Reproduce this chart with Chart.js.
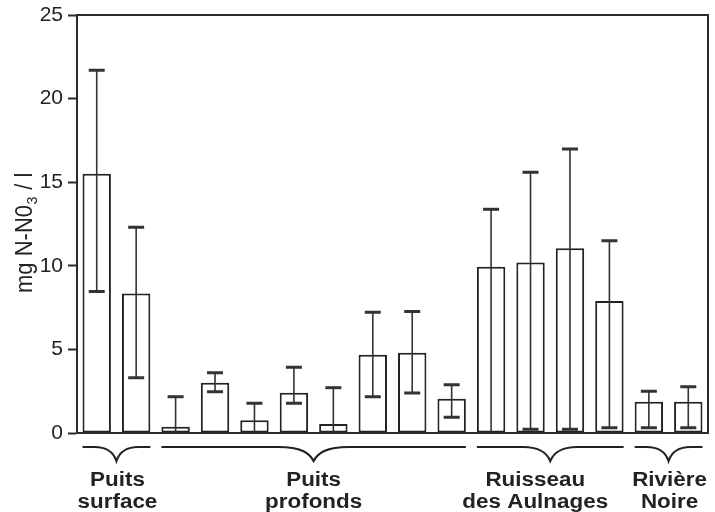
<!DOCTYPE html>
<html>
<head>
<meta charset="utf-8">
<script src="https://cdn.jsdelivr.net/npm/chart.js@4/dist/chart.umd.min.js"></script>
<style>
  html, body { margin: 0; padding: 0; background: #ffffff; }
  #wrap { width: 715px; height: 512px; }
</style>
</head>
<body>
<div id="wrap"><canvas id="c" width="715" height="512"></canvas></div>
<script>
// ---- data ----
const categories = ["PS1","PS2","PP1","PP2","PP3","PP4","PP5","PP6","PP7","PP8","RA1","RA2","RA3","RA4","RN1","RN2"];
const means = [15.5, 8.35, 0.38, 3.0, 0.76, 2.4, 0.54, 4.68, 4.8, 2.05, 9.95, 10.2, 11.05, 7.9, 1.87, 1.87];
const upper = [21.7, 12.3, 2.17, 3.6, 1.78, 3.93, 2.71, 7.22, 7.26, 2.89, 13.38, 15.6, 16.99, 11.5, 2.5, 2.77];
const lower = [8.47, 3.31, null, 2.47, null, 1.78, null, 2.17, 2.39, 0.94, null, 0.22, 0.22, 0.32, 0.32, 0.32];
const yTicks = [0, 5, 10, 15, 20, 25];
const groupLabels = [["Puits", "surface"], ["Puits", "profonds"], ["Ruisseau", "des Aulnages"], ["Rivière", "Noire"]];
const groupFirst = [0, 2, 10, 14];
const groupLast = [1, 9, 13, 15];
const yTitleMain = "mg N-N0";
const yTitleSub = "3";
const yTitleEnd = " / l";

const INK = "#2b2b2b";

const frameAndExtras = {
  id: "frameAndExtras",
  afterDatasetsDraw(chart) {
    const ctx = chart.ctx;
    const ys = chart.scales.y;
    const meta = chart.getDatasetMeta(0);
    ctx.save();
    ctx.strokeStyle = "#333";
    for (let i = 0; i < means.length; i++) {
      const x = meta.data[i].x;
      const yTop = ys.getPixelForValue(upper[i]);
      const yBot = ys.getPixelForValue(lower[i] === null ? 0 : lower[i]);
      ctx.lineWidth = 1.6;
      ctx.beginPath();
      ctx.moveTo(x, yTop);
      ctx.lineTo(x, yBot);
      ctx.stroke();
      ctx.lineWidth = 3;
      ctx.beginPath();
      ctx.moveTo(x - 8, yTop);
      ctx.lineTo(x + 8, yTop);
      if (lower[i] !== null) {
        ctx.moveTo(x - 8, yBot);
        ctx.lineTo(x + 8, yBot);
      }
      ctx.stroke();
    }
    ctx.restore();
  },
  afterDraw(chart) {
    const ctx = chart.ctx;
    const a = chart.chartArea;
    const xs = chart.scales.x;
    ctx.save();
    // frame: top, right, bottom
    ctx.strokeStyle = INK;
    ctx.lineWidth = 2;
    ctx.beginPath();
    ctx.moveTo(a.left, a.top);
    ctx.lineTo(a.right, a.top);
    ctx.lineTo(a.right, a.bottom);
    ctx.lineTo(a.left, a.bottom);
    ctx.stroke();

    // braces
    const catW = (a.right - a.left) / categories.length;
    const halfBar = catW * 0.72 / 2;
    const y0 = a.bottom + 14;
    const h = 14;
    const labelShift = [1, 0, -15, 1];
    ctx.lineWidth = 2.2;
    ctx.strokeStyle = "#222";
    for (let g = 0; g < groupLabels.length; g++) {
      const x1 = xs.getPixelForValue(groupFirst[g]) - halfBar;
      const x2 = xs.getPixelForValue(groupLast[g]) + halfBar;
      const tip = (x1 + x2) / 2;
      const half = (x2 - x1) / 2;
      const c = Math.min(half * 0.65, 20 + half * 0.1);
      ctx.beginPath();
      ctx.moveTo(x1, y0);
      ctx.lineTo(tip - c, y0);
      ctx.bezierCurveTo(tip - c * 0.35, y0, tip - c * 0.12, y0 + h * 0.45, tip, y0 + h);
      ctx.bezierCurveTo(tip + c * 0.12, y0 + h * 0.45, tip + c * 0.35, y0, tip + c, y0);
      ctx.lineTo(x2, y0);
      ctx.stroke();

      ctx.fillStyle = "#222";
      ctx.font = "bold 19px 'Liberation Sans', Arial, sans-serif";
      ctx.textAlign = "center";
      ctx.textBaseline = "alphabetic";
      const lines = groupLabels[g];
      for (let k = 0; k < lines.length; k++) {
        ctx.save();
        ctx.translate(tip + labelShift[g], a.bottom + 53 + k * 22);
        ctx.scale(1.18, 1.03);
        ctx.fillText(lines[k], 0, 0);
        ctx.restore();
      }
    }

    // y axis title
    ctx.save();
    ctx.translate(32, 293);
    ctx.rotate(-Math.PI / 2);
    ctx.scale(1.1, 1.15);
    ctx.fillStyle = "#222";
    ctx.textAlign = "left";
    ctx.textBaseline = "alphabetic";
    ctx.font = "20px 'Liberation Sans', Arial, sans-serif";
    let u = 0;
    ctx.fillText(yTitleMain, u, 0);
    u += ctx.measureText(yTitleMain).width;
    ctx.font = "13px 'Liberation Sans', Arial, sans-serif";
    ctx.fillText(yTitleSub, u + 0.5, 4);
    u += ctx.measureText(yTitleSub).width + 1;
    ctx.font = "20px 'Liberation Sans', Arial, sans-serif";
    ctx.fillText(yTitleEnd, u, 0);
    ctx.restore();

    ctx.restore();
  }
};

new Chart(document.getElementById("c"), {
  type: "bar",
  data: {
    labels: categories,
    datasets: [{
      data: means,
      backgroundColor: "#ffffff",
      borderColor: "#222",
      borderWidth: 2,
      borderSkipped: false,
      barPercentage: 0.72,
      categoryPercentage: 1.0
    }]
  },
  options: {
    responsive: false,
    animation: false,
    devicePixelRatio: 1,
    layout: { padding: { left: 0, right: 7, top: 15, bottom: 79 } },
    plugins: { legend: { display: false }, tooltip: { enabled: false } },
    scales: {
      x: { display: false, offset: true, grid: { display: false } },
      y: {
        min: 0,
        max: 25,
        afterBuildTicks(scale) { scale.ticks = yTicks.map(v => ({ value: v })); },
        afterFit(scale) { scale.width = 77; scale.paddingTop = 0; scale.paddingBottom = 0; },
        ticks: {
          color: "#222",
          padding: 5,
          font: { family: "'Liberation Sans', Arial, sans-serif", size: 21 }
        },
        grid: {
          drawOnChartArea: false,
          drawTicks: true,
          tickLength: 9,
          tickWidth: 2,
          tickColor: INK
        },
        border: { display: true, color: INK, width: 2 }
      }
    }
  },
  plugins: [frameAndExtras]
});
</script>
</body>
</html>
